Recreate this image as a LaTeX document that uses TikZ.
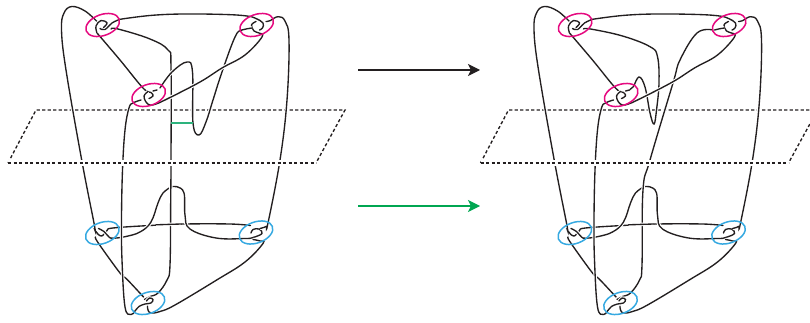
\documentclass[tikz,border=0pt]{standalone}
\usetikzlibrary{arrows.meta}
\definecolor{kpink}{HTML}{E5097F}
\definecolor{kcyan}{HTML}{36A9E1}
\definecolor{kgreen}{HTML}{00A651}
\definecolor{kbar}{HTML}{2DB37D}
\definecolor{kink}{HTML}{231F20}
\tikzset{
  strand/.style={draw=kink,line width=1.35pt,line cap=round,preaction={draw=white,line width=3.4pt,line cap=butt}},
  planeedge/.style={draw=kink,line width=1.35pt,dash pattern=on 3.2pt off 2.3pt},
  clasp pink/.style={draw=kpink,line width=1.5pt},
  clasp cyan/.style={draw=kcyan,line width=1.5pt},
  ring/.style={x radius=17.5pt,y radius=10.5pt,rotate=20},
  mainarrow/.style={line width=1.3pt,-{Stealth[length=12pt,width=12pt,inset=3pt]}},
}
\newcommand{\sm}[1]{plot[smooth,tension=0.65] coordinates {#1}}
\newcommand{\planeback}{
  \draw[planeedge] (8,163) -- (36,110) -- (345,110) -- (316,163);
}
\newcommand{\planefront}{
  \draw[white,line width=5.5pt] (8,163) -- (316,163);
  \draw[planeedge] (8,163) -- (316,163);
}
\newcommand{\lowerstrands}{
  \draw[strand] \sm{(97,21.5) (85,11) (72,6.5) (64,13) (61.5,30) (66,70) (81.7,160) (94,223) (95.5,231) (101.5,236) (107,230.5) (113,228) (150,225.5) (185,224) (230,224) (250.5,225.5)};
  \draw[strand] \sm{(98.5,228.5) (104,231.5) (109,237) (113,238.2) (125,236.7) (140,232) (151,222) (158,203) (163,193) (171,187)};
  \draw[strand] \sm{(171,187) (177,186.7) (184,193) (185,215) (190,229) (216,238) (245,238.5) (253,237.5) (262,233.5) (259,229) (253,229.5) (251,233)};
  \draw[strand] \sm{(266,21.5) (270,20.7) (278,16.7) (285,21) (289,40) (287,100) (280,160) (268,223) (266,226.5) (260,228.5)};
  \draw[strand] \sm{(95.5,237) (98.3,243) (120,273) (126.7,279) (141.7,295) (143.5,297)};
  \draw[strand] \sm{(253,239.5) (260,241) (263,243.5) (245,262) (216.7,280) (175,305) (160,311.5) (151,313) (148,310) (147.5,306)};
}
\newcommand{\upperstrands}{
  \draw[strand] \sm{(120,19.3) (112,23) (105,29.5) (100,28.5)};
  \draw[strand] \sm{(120,19.3) (150,15.5) (183,14) (225,14.5) (247,16) (256,18.5) (263,23) (262.5,28) (259.5,30)};
  \draw[strand] \sm{(97,33) (96,26) (101,20.5) (107,23) (103.5,27.5)};
  \draw[strand] \sm{(97,33) (120,60) (143,88) (151,92.5) (153,96) (149,98.5)};
  \draw[strand] \sm{(141,100) (133,103) (129,108) (125,130) (122.5,170) (121.5,220) (122,260) (125,307) (131,314.5) (135,311) (139,306.5) (145,304) (151,303) (153,299.5) (149.5,298) (146.5,301)};
}
\newcommand{\diagonal}{
  \draw[strand] \sm{(157,90) (153,91)};
  \draw[strand] \sm{(256,21.5) (251.5,25) (254,31) (259,33) (262,37) (245,55) (222,68) (200,82) (167,99) (156,104) (150,105) (146,102) (144,96) (148,91.5)};
  \draw[strand] \sm{(242,30) (247,28.8) (252,28)};
}
\newcommand{\clasps}{
  \draw[clasp pink] (102.7,25) circle[ring];
  \draw[clasp pink] (256.7,25) circle[ring];
  \draw[clasp pink] (148.7,95) circle[ring];
  \draw[clasp cyan] (102.3,233) circle[ring];
  \draw[clasp cyan] (256,232.5) circle[ring];
  \draw[clasp cyan] (148,303) circle[ring];
}
\begin{document}
\begin{tikzpicture}[x=1pt,y=-1pt]
  \useasboundingbox (0,0) rectangle (810,323);
  \clip (0,0) rectangle (810,323);
  \begin{scope}
    \planeback
    \lowerstrands
    \draw[strand] \sm{(111,29) (118,29) (150,39) (168,50) (171,66.7) (171,160) (170.7,200) (170,265) (167,280) (158,293) (150,296.5) (144.5,299.5)};
    \draw[strand] (156,224.8) -- (181,224);
    \upperstrands
    \draw[strand] \sm{(160,88) (172,72) (187,62) (192.5,72) (193,123) (199,135) (206,122) (213,100) (222,72) (235,37) (242,30) (252,28)};
    \diagonal
    \coordinate (barL) at (171,123);
    \coordinate (barR) at (193,123);
    \draw[kbar,line width=2.4pt] (barL) -- (barR);
    \clasps
    \planefront
  \end{scope}
  \begin{scope}[xshift=472.5pt]
    \planeback
    \lowerstrands
    \draw[strand] \sm{(111,29) (118,29) (150,36) (177.5,46.7) (185,56.7) (186.5,83) (184,110) (181.5,124) (177.5,113) (172.5,87) (166.5,77) (160.5,87) (155.5,90.5)};
    \draw[strand] \sm{(240.5,30) (224.5,33) (207.5,60) (200.5,83) (177.5,160) (170.5,190) (169.5,265) (167,280) (158,293) (150,296.5) (144.5,299.5)};
    \draw[strand] (156,224.8) -- (181,224);
    \upperstrands
    \diagonal
    \clasps
    \planefront
  \end{scope}
  \coordinate (a1) at (358,70);
  \coordinate (a2) at (480,70);
  \coordinate (b1) at (358,206);
  \coordinate (b2) at (480,206);
  \draw[mainarrow,draw=kink,fill=kink] (a1) -- (a2);
  \draw[mainarrow,draw=kgreen,fill=kgreen] (b1) -- (b2);
\end{tikzpicture}
\end{document}
